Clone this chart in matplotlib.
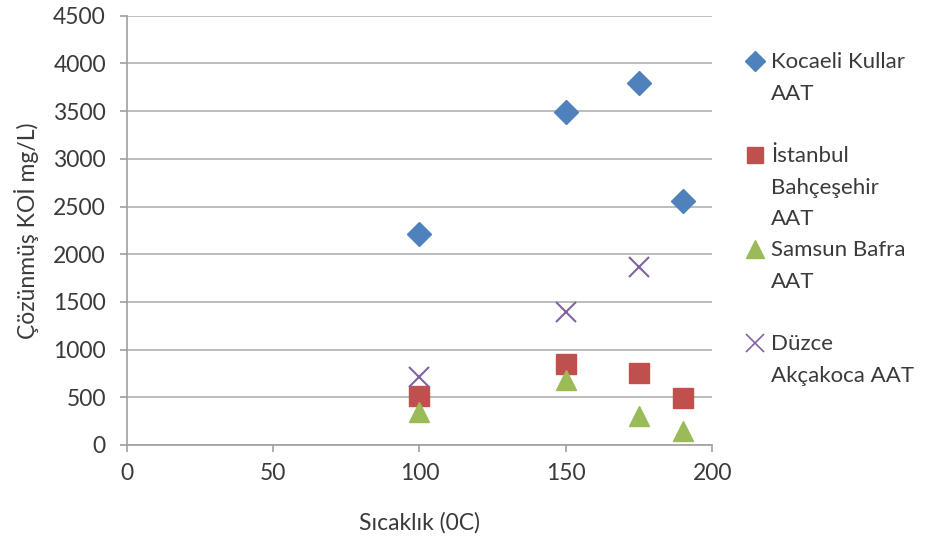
import matplotlib
matplotlib.use('Agg')
import matplotlib.pyplot as plt
from matplotlib.lines import Line2D

plt.rcParams['font.family'] = ['Lato', 'DejaVu Sans']
plt.rcParams['font.size'] = 16

# data
kocaeli_x = [100, 150, 175, 190]
kocaeli_y = [2210, 3490, 3800, 2560]
istanbul_x = [100, 150, 175, 190]
istanbul_y = [510, 850, 760, 495]
samsun_x = [100, 150, 175, 190]
samsun_y = [345, 680, 305, 145]
duzce_x = [100, 150, 175]
duzce_y = [715, 1395, 1865]

c_blue = '#4F81BD'
c_red = '#C0504D'
c_green = '#9BBB59'
c_purple = '#8064A2'
txt = '#3A3A3A'

fig = plt.figure(figsize=(9.25, 5.44), dpi=100)
ax = fig.add_axes([0.137, 0.182, 0.633, 0.789])

ax.plot(kocaeli_x, kocaeli_y, ls='none', marker='D', ms=12, color=c_blue, mec=c_blue)
ax.plot(istanbul_x, istanbul_y, ls='none', marker='s', ms=14.5, color=c_red, mec=c_red)
ax.plot(samsun_x, samsun_y, ls='none', marker='^', ms=15, color=c_green, mec=c_green)
ax.plot(duzce_x, duzce_y, ls='none', marker='x', ms=14, mew=1.5, color=c_purple)

ax.set_xlim(0, 200)
ax.set_ylim(0, 4500)
ax.set_xticks(range(0, 201, 50))
ax.set_yticks(range(0, 4501, 500))
ax.yaxis.grid(True, color='#B0B0B0', lw=1.2)
ax.set_axisbelow(True)
for s in ['top', 'right']:
    ax.spines[s].set_visible(False)
for s in ['left', 'bottom']:
    ax.spines[s].set_color('#A0A0A0')
    ax.spines[s].set_linewidth(1.2)
ax.tick_params(colors='#A0A0A0', labelcolor=txt, length=5, width=1.2, labelsize=16.5)
ax.tick_params(axis='y', pad=10)
ax.tick_params(axis='x', pad=8)

ax.set_xlabel('Sıcaklık (0C)', color=txt, fontsize=16.5, labelpad=20)
ax.set_ylabel('Çözünmüş KOİ mg/L)', color=txt, fontsize=16.5, labelpad=10)

# legend, one row per text line like the original
blank = Line2D([], [], ls='none')
handles = [
    Line2D([], [], ls='none', marker='D', ms=10, color=c_blue), blank, blank,
    Line2D([], [], ls='none', marker='s', ms=12, color=c_red), blank, blank,
    Line2D([], [], ls='none', marker='^', ms=13, color=c_green), blank, blank,
    Line2D([], [], ls='none', marker='x', ms=13, mew=1.2, color=c_purple), blank,
]
labels = ['Kocaeli Kullar', 'AAT', ' ',
          'İstanbul', 'Bahçeşehir', 'AAT',
          'Samsun Bafra', 'AAT', ' ',
          'Düzce', 'Akçakoca AAT']
leg = fig.legend(handles, labels, loc='upper left', bbox_to_anchor=(0.795, 0.92),
                 frameon=False, handlelength=1.0, handletextpad=0.2,
                 labelspacing=0.51, borderaxespad=0, fontsize=16)
for t in leg.get_texts():
    t.set_color(txt)

fig.savefig('out.png', dpi=100)
